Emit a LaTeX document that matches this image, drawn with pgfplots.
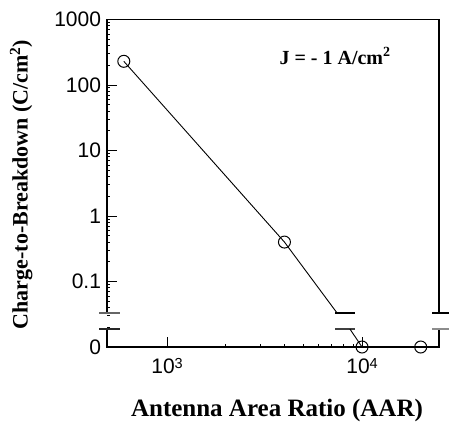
\documentclass[border=0pt]{standalone}
\usepackage{fontspec}
\setmainfont{Liberation Serif}
\newfontfamily\tickfont{Liberation Sans}
\usepackage{pgfplots}
\pgfplotsset{compat=1.18}
\usetikzlibrary{calc}

\begin{document}
\begin{tikzpicture}
\begin{axis}[
  name=ax,
  xmode=log, ymode=log,
  scale only axis,
  width=332pt, height=327.5pt,
  xmin=492, xmax=24820,
  ymin=0.01, ymax=1000,
  axis line style={draw=none},
  tick align=inside,
  xtick pos=bottom, ytick pos=left,
  major tick length=10pt,
  minor xtick={}, minor ytick={},
  xtick={1000,10000},
  xticklabels={{10\raisebox{5pt}{\fontsize{14.5pt}{14.5pt}\selectfont 3}},{10\raisebox{5pt}{\fontsize{14.5pt}{14.5pt}\selectfont 4}}},
  ytick={0.01,0.1,1,10,100,1000},
  yticklabels={0,0.1,1,10,100,1000},
  ticklabel style={font=\tickfont\fontsize{21pt}{21pt}\selectfont},
  yticklabel style={xshift=-2.5pt},
  xticklabel style={yshift=-8pt},
  tick style={black, line width=1pt},
  clip=false,
  xlabel={Antenna Area Ratio (AAR)},
  ylabel={Charge-to-Breakdown (C/cm\textsuperscript{2})},
  x label style={at={(axis description cs:0.512,-0.2107)}, anchor=base,
    font=\bfseries\fontsize{25pt}{25pt}\selectfont},
  y label style={at={(axis description cs:-0.2392,0.496)}, anchor=base,
    font=\bfseries\fontsize{22pt}{22pt}\selectfont},
]
% frame with breaks
\addplot[black, line width=1.1pt, no marks] coordinates {(492,0.033) (492,1000) (24820,1000) (24820,0.033)};
\addplot[black, line width=1.1pt, no marks] coordinates {(492,0.0188) (492,0.01) (24820,0.01) (24820,0.0188)};
% break marks
\addplot[black!60, line width=1.2pt, no marks] coordinates {(448,0.033) (574,0.033)};
\addplot[black!85, line width=1.2pt, no marks] coordinates {(448,0.0188) (574,0.0188)};
\addplot[black, line width=1.2pt, no marks] coordinates {(7270,0.033) (9210,0.033)};
\addplot[black!75, line width=1.5pt, no marks] coordinates {(7270,0.0188) (9210,0.0188)};
\addplot[black, line width=1.2pt, no marks] coordinates {(22860,0.033) (27900,0.033)};
\addplot[black!45, line width=1.2pt, no marks] coordinates {(22860,0.0188) (27900,0.0188)};
% data line
\addplot[black, line width=0.9pt, no marks] coordinates {(600,230) (4000,0.4) (7450,0.033)};
\addplot[black, line width=0.9pt, no marks] coordinates {(8670,0.0188) (10000,0.01) (20000,0.01)};
% data points
\addplot[only marks, mark=o, mark size=6pt, mark options={fill=white, line width=1pt}] coordinates {(600,230) (4000,0.4) (10000,0.01) (20000,0.01)};
\node[anchor=base, font=\bfseries\fontsize{20pt}{20pt}\selectfont] at (axis description cs:0.687,0.864) {J = - 1 A/cm\textsuperscript{2}};
\end{axis}
\pgfresetboundingbox
\path ($(ax.south west)+(-107pt,-74pt)$) rectangle ($(ax.north east)+(10pt,19.5pt)$);
\end{tikzpicture}
\end{document}
